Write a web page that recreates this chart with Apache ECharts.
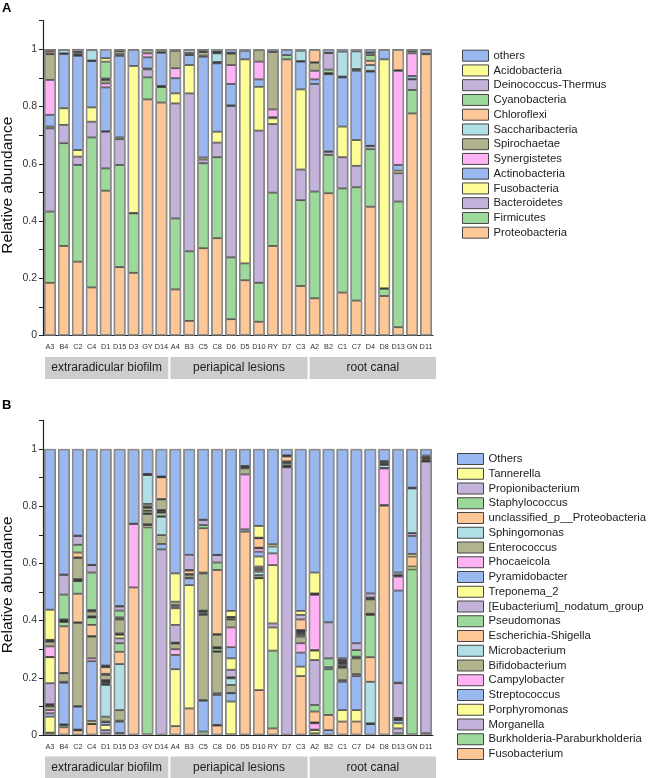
<!DOCTYPE html>
<html>
<head>
<meta charset="utf-8">
<script src="https://cdn.jsdelivr.net/npm/echarts@6/dist/echarts.min.js"></script>
<style>
  html, body { margin: 0; padding: 0; background: #fff; }
  #chart { width: 648px; height: 778px; }
</style>
</head>
<body>
<div id="chart"></div>
<script>
const samples = ['A3', 'B4', 'C2', 'C4', 'D1', 'D15', 'D3', 'GY', 'D14',
  'A4', 'B3', 'C5', 'C8', 'D6', 'D5', 'D10', 'RY', 'D7', 'C3',
  'A2', 'B2', 'C1', 'C7', 'D4', 'D8', 'D13', 'GN', 'D11'];
const groupNames = ['extraradicular biofilm', 'periapical lesions', 'root canal'];
const groupSizes = [9, 10, 9];

// panel A, phylum level (bottom of the stack first)
const proteobacteria = [0.184,0.313,0.258,0.168,0.506,0.239,0.219,0.825,0.814,0.161,0.051,0.305,0.340,0.057,0.193,0.048,0.313,0.965,0.173,0.130,0.497,0.150,0.122,0.450,0.138,0.029,0.776,0.983];
const firmicutes = [0.249,0.359,0.338,0.524,0.078,0.357,0.208,0.077,0.054,0.248,0.243,0.297,0.283,0.216,0.059,0.136,0.186,0.015,0.300,0.373,0.134,0.364,0.396,0.201,0.025,0.439,0.082,0.002];
const bacteroidetes = [0.291,0.064,0.029,0.055,0.128,0.090,0.001,0.028,0.002,0.402,0.552,0.013,0.051,0.529,0,0.532,0.240,0,0.107,0.376,0.011,0.109,0.075,0.011,0.002,0.099,0.037,0];
const fusobacteria = [0.006,0.058,0.023,0.050,0.002,0.006,0.514,0.003,0.002,0.035,0.099,0.007,0.038,0.002,0.713,0.153,0.020,0,0.280,0,0.001,0.107,0.090,0.001,0.800,0.009,0.001,0];
const actinobacteria = [0.041,0.190,0.329,0.162,0.153,0.285,0.056,0.039,0.116,0.053,0.035,0.352,0.239,0.075,0.030,0.026,0.004,0.018,0.097,0.016,0.270,0.172,0.242,0.259,0.033,0.020,0.011,0.012];
const synergistetes = [0.122,0.001,0.003,0.001,0.014,0.006,0,0.014,0,0.035,0.002,0.004,0.002,0.066,0,0.062,0.027,0,0.001,0.030,0.001,0.001,0.005,0.001,0,0.329,0.079,0];
const spirochaetae = [0.090,0.001,0.003,0.001,0.012,0.010,0,0.012,0,0.061,0.006,0.012,0.003,0.040,0,0.040,0.201,0,0.001,0.028,0.001,0.002,0.001,0.002,0,0.001,0.008,0];
const saccharibacteria = [0.003,0.012,0.006,0.036,0.002,0.002,0,0,0.001,0.001,0.010,0.003,0.030,0.002,0,0,0.001,0,0.036,0.002,0.001,0.087,0.062,0.020,0,0.001,0.002,0];
const chloroflexi = [0.008,0,0.002,0,0.003,0.001,0,0,0.001,0.001,0,0.002,0.002,0.001,0,0,0,0,0,0.043,0.001,0,0,0.015,0,0.071,0,0];
const cyanobacteria = [0.002,0,0,0,0.059,0.001,0,0,0.008,0,0,0.001,0.002,0,0,0,0,0,0,0,0.012,0,0,0.020,0,0,0,0];
const deinococcus = [0.001,0,0.008,0,0,0,0,0,0,0,0,0.001,0.001,0,0,0,0,0,0,0,0.058,0,0,0.008,0,0,0,0];
const acidobacteria = [0.001,0,0,0,0.012,0.001,0,0,0,0,0,0.001,0.001,0,0,0,0,0,0,0,0.001,0,0,0.001,0,0,0,0];
const othersA = [0.002,0.002,0.001,0.003,0.031,0.002,0.002,0.002,0.002,0.003,0.002,0.002,0.008,0.012,0.005,0.003,0.008,0.002,0.005,0.002,0.012,0.008,0.007,0.011,0.002,0.002,0.004,0.003];

// panel B, genus level (bottom of the stack first)
const fusobacterium = [0.006,0.027,0.016,0.038,0.006,0.004,0.516,0.002,0,0.031,0.093,0,0.033,0.002,0.711,0.157,0.023,0,0.206,0.004,0,0.047,0.047,0,0.802,0.006,0.002,0.004];
const burkholderia = [0.001,0.008,0.001,0.001,0,0.001,0,0.724,0,0,0,0.012,0.001,0,0,0,0.272,0,0,0.002,0,0,0,0,0,0,0.577,0.002];
const morganella = [0.001,0.001,0.001,0.001,0.011,0.001,0,0,0.649,0,0,0,0.001,0,0,0,0,0.936,0,0,0,0,0,0,0,0.017,0,0.950];
const porphyromonas = [0.056,0.001,0.001,0.009,0.018,0.001,0,0.008,0,0.199,0.431,0,0,0.115,0,0.391,0.081,0.002,0.033,0.011,0,0.040,0.040,0,0,0.018,0.010,0.001];
const streptococcus = [0.012,0.146,0.080,0.209,0.010,0.040,0,0.002,0.019,0.050,0.024,0.108,0.105,0.029,0.008,0.001,0,0.002,0.049,0.002,0.017,0.099,0.119,0.038,0.002,0.011,0,0.001];
const campylobacter = [0.011,0.003,0.002,0.010,0.002,0.003,0.222,0.001,0,0.020,0.002,0.002,0.006,0.001,0.192,0.001,0,0,0.033,0.022,0,0.006,0.007,0.001,0.128,0.002,0,0];
const bifidobacterium = [0.013,0.030,0.291,0.076,0.017,0.037,0,0.036,0.031,0.020,0.010,0.298,0.145,0.028,0.021,0.009,0,0.003,0.023,0.002,0,0.043,0.055,0.002,0.002,0.002,0,0.003];
const microbacterium = [0.002,0.001,0.002,0.002,0.111,0.161,0,0.001,0.064,0.001,0.003,0.002,0.001,0.023,0.003,0.012,0,0,0.004,0.001,0,0.003,0.003,0.145,0.010,0.002,0,0];
const escherichia = [0.003,0.163,0.100,0.039,0.003,0.043,0,0.001,0.002,0.001,0.012,0.003,0.001,0.002,0.002,0.006,0,0,0.004,0.038,0.053,0.003,0.003,0.086,0.003,0.001,0.035,0.005];
const pseudomonas = [0.003,0.015,0.044,0.026,0.004,0.030,0,0.009,0.012,0.001,0.002,0.006,0.010,0.002,0.002,0.006,0,0.008,0.004,0.023,0.160,0.006,0.023,0.148,0.003,0.001,0,0.002];
const eubacterium = [0.073,0.002,0.002,0.001,0.004,0.017,0,0.001,0.002,0.062,0.053,0.001,0.001,0.026,0.002,0.006,0.014,0.002,0.003,0.157,0,0.003,0.024,0.001,0,0.121,0,0];
const treponema = [0.091,0.001,0.002,0.001,0.002,0.012,0,0.008,0.004,0.058,0,0.001,0.001,0.040,0,0.035,0.204,0,0.002,0.033,0,0.002,0,0.001,0,0.002,0.009,0];
const pyramidobacter = [0.001,0.001,0.002,0.001,0.002,0.003,0,0.004,0.002,0.006,0,0.001,0.001,0.039,0,0.017,0,0,0.002,0.002,0,0.002,0,0.001,0,0.322,0.063,0];
const phocaeicola = [0.037,0.001,0.001,0.001,0.002,0.002,0,0.002,0.002,0.005,0,0.001,0.001,0.069,0,0.012,0.041,0,0.002,0.193,0,0.003,0,0.001,0,0.049,0.009,0];
const enterococcus = [0.016,0.002,0.074,0.017,0.018,0.049,0.001,0.009,0.037,0.012,0,0.130,0.043,0.028,0,0.001,0,0.004,0.001,0.003,0,0.003,0,0.050,0.004,0.003,0.001,0.004];
const sphingomonas = [0.002,0.001,0.002,0.002,0.004,0.003,0,0.101,0.001,0,0,0.003,0.003,0.001,0,0.001,0.024,0,0.001,0.001,0.007,0.002,0,0.002,0,0.001,0.156,0];
const unclassifiedProteo = [0.002,0.001,0.017,0.003,0.023,0.004,0,0.001,0.076,0,0,0.155,0.224,0.006,0,0.033,0,0.017,0.037,0.001,0,0,0,0.002,0.004,0.001,0.002,0.005];
const staphylococcus = [0.002,0.087,0.027,0.131,0.002,0.024,0,0.001,0.001,0,0,0.011,0.026,0.001,0,0.001,0,0.002,0,0,0.031,0,0,0.003,0,0,0.001,0];
const propionibacterium = [0.001,0.069,0.031,0.026,0.002,0.014,0,0.001,0.001,0,0,0.018,0.026,0.001,0,0.001,0,0.001,0.016,0,0.126,0.006,0,0.014,0,0.009,0,0];
const tannerella = [0.105,0.001,0.001,0.001,0.002,0.002,0,0.001,0.001,0.099,0,0.001,0.001,0.021,0,0.041,0.008,0.001,0.014,0.073,0,0,0,0,0,0,0,0];
const othersB = [0.562,0.439,0.303,0.405,0.757,0.549,0.261,0.087,0.096,0.435,0.370,0.247,0.370,0.566,0.059,0.269,0.333,0.022,0.566,0.432,0.606,0.732,0.679,0.505,0.042,0.432,0.135,0.023];

const phylumSeries = [
  ['Proteobacteria', proteobacteria], ['Firmicutes', firmicutes], ['Bacteroidetes', bacteroidetes],
  ['Fusobacteria', fusobacteria], ['Actinobacteria', actinobacteria], ['Synergistetes', synergistetes],
  ['Spirochaetae', spirochaetae], ['Saccharibacteria', saccharibacteria], ['Chloroflexi', chloroflexi],
  ['Cyanobacteria', cyanobacteria], ['Deinococcus-Thermus', deinococcus], ['Acidobacteria', acidobacteria],
  ['others', othersA]
];
const genusSeries = [
  ['Fusobacterium', fusobacterium], ['Burkholderia-Paraburkholderia', burkholderia], ['Morganella', morganella],
  ['Porphyromonas', porphyromonas], ['Streptococcus', streptococcus], ['Campylobacter', campylobacter],
  ['Bifidobacterium', bifidobacterium], ['Microbacterium', microbacterium], ['Escherichia-Shigella', escherichia],
  ['Pseudomonas', pseudomonas], ['[Eubacterium]_nodatum_group', eubacterium], ['Treponema_2', treponema],
  ['Pyramidobacter', pyramidobacter], ['Phocaeicola', phocaeicola], ['Enterococcus', enterococcus],
  ['Sphingomonas', sphingomonas], ['unclassified_p__Proteobacteria', unclassifiedProteo], ['Staphylococcus', staphylococcus],
  ['Propionibacterium', propionibacterium], ['Tannerella', tannerella], ['Others', othersB]
];

// colours repeat every 8 taxa
const palette = ['#fec797', '#9ed99c', '#c3b2d9', '#fdfd98', '#98b8ef', '#ffb2f4', '#b0b38c', '#b0e0e6'];
const font = '"Liberation Sans", Arial, sans-serif';

const chart = echarts.init(document.getElementById('chart'));

function stackSeries(list, idx) {
  return list.map(([name, vals], i) => ({
    name: name,
    type: 'bar',
    stack: 'total' + idx,
    xAxisIndex: idx,
    yAxisIndex: idx,
    barWidth: 11.5,
    data: vals.map(v => v === 0 ? '-' : v),
    itemStyle: {color: palette[i % 8], borderColor: '#3a3a3a', borderWidth: 0.8},
    emphasis: {disabled: true}
  }));
}

// grey outline round each whole bar
function frameSeries(list, idx) {
  const sums = samples.map((s, j) => list.reduce((acc, [, vals]) => acc + vals[j], 0));
  return {
    name: 'frame' + idx,
    type: 'bar',
    xAxisIndex: idx,
    yAxisIndex: idx,
    barWidth: 11.5,
    barGap: '-100%',
    z: 3,
    silent: true,
    data: sums,
    itemStyle: {color: 'rgba(0,0,0,0)', borderColor: '#8d8d8d', borderWidth: 1.4}
  };
}

function xAxisFor(idx) {
  return {
    type: 'category', gridIndex: idx, data: samples,
    axisLine: {lineStyle: {color: '#222', width: 1.2}},
    axisTick: {length: 4, lineStyle: {color: '#222'}},
    axisLabel: {interval: 0, fontSize: 7.3, color: '#333', margin: 8, fontFamily: font}
  };
}

function yAxisFor(idx) {
  return {
    type: 'value', gridIndex: idx, min: 0, max: 1.1, interval: 0.1,
    axisLine: {show: true, lineStyle: {color: '#222', width: 1.2}},
    axisTick: {show: true, length: 4, lineStyle: {color: '#222'}},
    splitLine: {show: false},
    axisLabel: {
      fontSize: 10.5, color: '#333', margin: 6, fontFamily: font,
      formatter: v => {
        const t = Math.round(v * 10);
        return (t % 2 === 0 && t <= 10) ? String(t / 10) : '';
      }
    }
  };
}

function legendFor(list, left, top) {
  return {
    orient: 'vertical', left: left, top: top, padding: 0,
    itemWidth: 26, itemHeight: 11, itemGap: 2.75, icon: 'rect',
    selectedMode: false,
    itemStyle: {borderColor: '#444', borderWidth: 1},
    textStyle: {fontSize: 11.3, lineHeight: 11, color: '#222', fontFamily: font},
    data: list.map(s => s[0]).reverse()
  };
}

const option = {
  animation: false,
  textStyle: {fontFamily: font},
  title: [
    {text: 'A', left: 2, top: 2, padding: 0, textStyle: {fontSize: 13, fontWeight: 'bold', color: '#000', fontFamily: font}},
    {text: 'B', left: 2, top: 398.5, padding: 0, textStyle: {fontSize: 13, fontWeight: 'bold', color: '#000', fontFamily: font}}
  ],
  grid: [
    {left: 43, top: 20.7, width: 390, height: 314.8},
    {left: 43, top: 420.4, width: 390, height: 314.6}
  ],
  xAxis: [xAxisFor(0), xAxisFor(1)],
  yAxis: [yAxisFor(0), yAxisFor(1)],
  legend: [legendFor(phylumSeries, 462, 49.7), legendFor(genusSeries, 457, 453)],
  series: [].concat(
    stackSeries(phylumSeries, 0), [frameSeries(phylumSeries, 0)],
    stackSeries(genusSeries, 1), [frameSeries(genusSeries, 1)]
  )
};
chart.setOption(option);

// axis title and grey group boxes, placed from the axes
function decorations(idx) {
  const c0 = chart.convertToPixel({xAxisIndex: idx}, samples[0]);
  const c1 = chart.convertToPixel({xAxisIndex: idx}, samples[1]);
  const band = c1 - c0;
  const y0 = chart.convertToPixel({yAxisIndex: idx}, 0);
  const yMid = chart.convertToPixel({yAxisIndex: idx}, 0.525);
  const els = [{
    type: 'text', silent: true, x: 8, y: yMid, rotation: Math.PI / 2,
    style: {text: 'Relative abundance', fill: '#111', font: '15.5px ' + font, textAlign: 'center', textVerticalAlign: 'middle'}
  }];
  let start = 0;
  groupNames.forEach((g, k) => {
    const end = start + groupSizes[k];
    const x0 = c0 - band / 2 + start * band + 2;
    const x1 = c0 - band / 2 + end * band + (k === groupNames.length - 1 ? 3 : 0);
    els.push({
      type: 'rect', silent: true,
      shape: {x: x0, y: y0 + 21.5, width: x1 - x0, height: 22},
      style: {fill: '#cdcdcd'}
    });
    els.push({
      type: 'text', silent: true,
      x: (x0 + x1) / 2, y: y0 + 32.5,
      style: {text: g, fill: '#222', font: '12px ' + font, textAlign: 'center', textVerticalAlign: 'middle'}
    });
    start = end;
  });
  return els;
}
chart.setOption({graphic: decorations(0).concat(decorations(1))});
</script>
</body>
</html>
